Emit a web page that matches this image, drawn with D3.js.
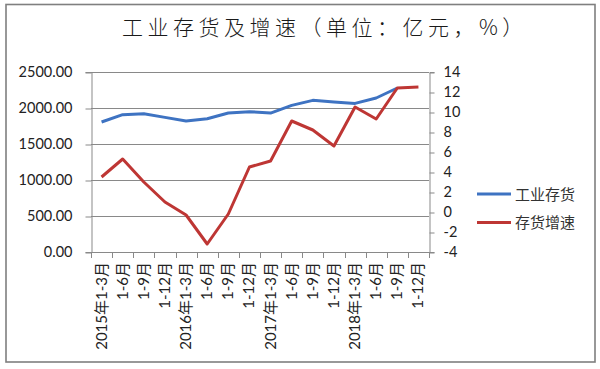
<!DOCTYPE html>
<html><head><meta charset="utf-8">
<script src="https://cdn.jsdelivr.net/npm/d3@7/dist/d3.min.js"></script>
<style>body{margin:0;background:#fff;} svg{display:block;}</style>
</head><body><svg id="c" width="600" height="369"></svg>
<script>
const categories = ["2015年1-3月","1-6月","1-9月","1-12月","2016年1-3月","1-6月","1-9月","1-12月","2017年1-3月","1-6月","1-9月","1-12月","2018年1-3月","1-6月","1-9月","1-12月"];
const inventory = [1805,1907,1921,1870,1819,1851,1930,1949,1930,2036,2106,2083,2064,2139,2278];
const growth = [3.5,5.3,3.0,1.0,-0.3,-3.2,-0.2,4.5,5.1,9.1,8.2,6.6,10.5,9.3,12.4,12.5];
const leftTicks = [0,500,1000,1500,2000,2500];
const rightTicks = [-4,-2,0,2,4,6,8,10,12,14];
const seriesNames = ["工业存货","存货增速"];
const title = "工业存货及增速（单位：亿元，%）";

const svg = d3.select("#c");
const L = 91, R = 429, T = 72, B = 252;
const blue = "#3E73C2", red = "#BE3634", axisC = "#898989";
const numFont = "Lato, 'Liberation Sans', sans-serif";
const cjkFont = "'Noto Sans CJK SC', sans-serif";

svg.append("rect").attr("x",6).attr("y",4.5).attr("width",589).attr("height",357.5)
  .attr("fill","none").attr("stroke","#7f7f7f").attr("stroke-width",1.6);

svg.append("text").attr("x",122).attr("y",35).attr("font-family",cjkFont)
  .attr("font-size",21).attr("font-weight",300).attr("letter-spacing","4.5px").attr("fill","#1a1a1a").text(title);

const x = d3.scaleBand().domain(d3.range(categories.length)).range([L,R]).padding(0);
const yL = d3.scaleLinear().domain([0,2500]).range([B,T]);
const yR = d3.scaleLinear().domain([-4,14]).range([B,T]);

// gridlines
svg.append("g").selectAll("line").data(leftTicks).join("line")
  .attr("x1",L).attr("x2",R).attr("y1",d=>yL(d)+0.5).attr("y2",d=>yL(d)+0.5)
  .attr("stroke",axisC).attr("stroke-width",1);

// left axis
const gl = svg.append("g").attr("transform",`translate(${L+0.5},0)`)
  .call(d3.axisLeft(yL).tickValues(leftTicks).tickSize(6).tickPadding(13).tickFormat(d3.format(".2f")));
gl.select(".domain").attr("stroke",axisC);
gl.selectAll(".tick line").attr("stroke",axisC).attr("transform","translate(0,0.5)");
gl.selectAll("text").attr("font-family",numFont).attr("font-size",14.5).attr("fill","#222");

// right axis
const gr = svg.append("g").attr("transform",`translate(${R+0.5},0)`)
  .call(d3.axisRight(yR).tickValues(rightTicks).tickSize(5).tickPadding(9).tickFormat(d3.format("d")));
gr.select(".domain").attr("stroke",axisC);
gr.selectAll(".tick line").attr("stroke",axisC).attr("transform","translate(0,0.5)");
gr.selectAll("text").attr("font-family",numFont).attr("font-size",14.5).attr("fill","#222")
  .text(d=> d<0 ? "-"+Math.abs(d) : d);

// bottom axis: ticks at boundaries
const gb = svg.append("g");
gb.append("line").attr("x1",L).attr("x2",R).attr("y1",B+0.5).attr("y2",B+0.5).attr("stroke",axisC);
gb.selectAll("line.t").data(d3.range(categories.length+1)).join("line").attr("class","t")
  .attr("x1",i=>Math.round(L + i*x.bandwidth())+0.5).attr("x2",i=>Math.round(L + i*x.bandwidth())+0.5)
  .attr("y1",B).attr("y2",B+6).attr("stroke",axisC);
gb.selectAll("text").data(categories).join("text")
  .attr("transform",(d,i)=>`translate(${x(i)+x.bandwidth()/2+5},${B+10}) rotate(-90)`)
  .attr("text-anchor","end").attr("font-family",`Lato, 'Noto Sans CJK SC', sans-serif`)
  .attr("font-size",15).attr("fill","#222").text(d=>d);

// lines
const lineL = d3.line().x((d,i)=>x(i)+x.bandwidth()/2).y(d=>yL(d));
const lineR = d3.line().x((d,i)=>x(i)+x.bandwidth()/2).y(d=>yR(d));
svg.append("path").datum(inventory).attr("d",lineL).attr("fill","none")
  .attr("stroke",blue).attr("stroke-width",3).attr("stroke-linejoin","round");
svg.append("path").datum(growth).attr("d",lineR).attr("fill","none")
  .attr("stroke",red).attr("stroke-width",3).attr("stroke-linejoin","round");

// legend
const leg = svg.append("g");
const legY = [194,222.5], legC = [blue, red];
seriesNames.forEach((n,i)=>{
  leg.append("line").attr("x1",477).attr("x2",511).attr("y1",legY[i]).attr("y2",legY[i])
    .attr("stroke",legC[i]).attr("stroke-width",3);
  leg.append("text").attr("x",515).attr("y",legY[i]+5.5).attr("font-family",cjkFont)
    .attr("font-size",15).attr("fill","#333").text(n);
});
</script></body></html>
